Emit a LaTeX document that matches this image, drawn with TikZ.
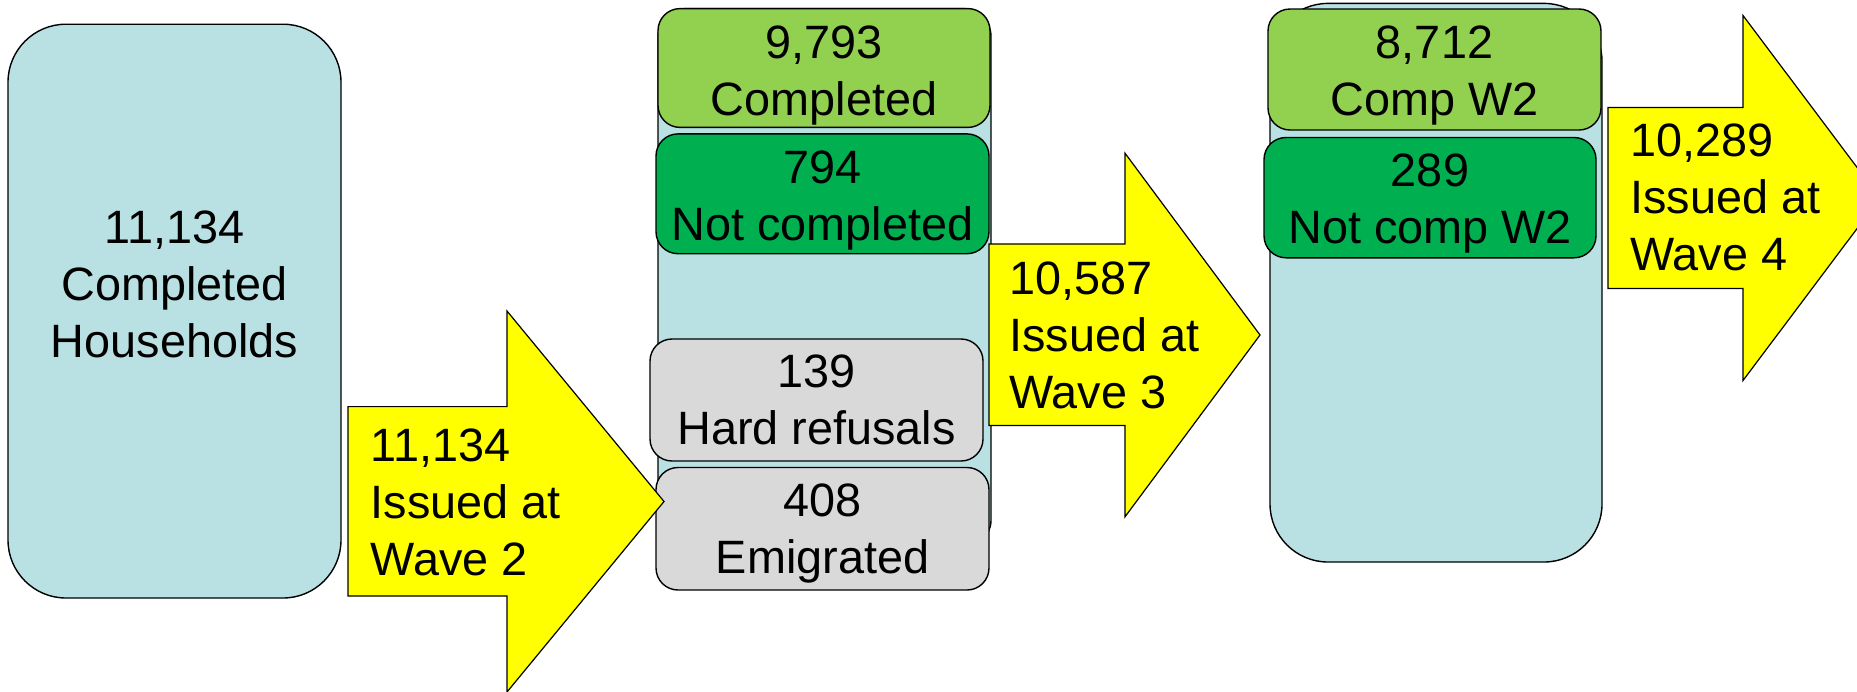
\documentclass[tikz,border=0pt]{standalone}
\usepackage{fontspec}
\setmainfont{Liberation Sans}
\definecolor{lblue}{RGB}{185,224,226}
\definecolor{lgreen}{RGB}{146,208,80}
\definecolor{dgreen}{RGB}{0,176,80}
\definecolor{lgray}{RGB}{217,217,217}
\definecolor{ylw}{RGB}{255,255,0}
\newcommand\ctrlines[1]{\begin{tabular}[t]{@{}c@{}}#1\end{tabular}}
\newcommand\leftlines[1]{\begin{tabular}[t]{@{}l@{}}#1\end{tabular}}
\tikzset{
  boxshape/.style={draw=black, line width=0.7pt, rectangle, inner sep=0pt},
  bigbox/.style={boxshape, rounded corners=29pt},
  smallbox/.style={boxshape, rounded corners=11pt},
  arrowshape/.style={draw=black, line width=0.6pt, fill=ylw},
  label/.style={inner sep=0pt, anchor=base, font=\fontsize{23.4}{28.5}\selectfont},
}
\begin{document}
\begin{tikzpicture}[x=0.5pt, y=-0.5pt]
\useasboundingbox (0,0) rectangle (1857,691);
% left box
\node[bigbox, fill=lblue, minimum width=166.5pt, minimum height=286.9pt] (b1) at (174.5,311.1) {};
% middle container and boxes
\node[boxshape, rounded corners=14pt, fill=lblue, minimum width=166.5pt, minimum height=269.7pt] (mid) at (824.5,278.3) {};
\node[smallbox, fill=lgreen, minimum width=166pt, minimum height=59.4pt] (comp) at (824,68) {};
\node[smallbox, fill=dgreen, minimum width=166.5pt, minimum height=59.9pt] (notcomp) at (822.5,193.8) {};
\node[smallbox, fill=lgray, minimum width=166.5pt, minimum height=61pt] (hard) at (816.5,400) {};
\node[smallbox, fill=lgray, minimum width=166.5pt, minimum height=61.25pt] (emig) at (822.5,528.75) {};
% right container and boxes
\node[bigbox, fill=lblue, minimum width=166pt, minimum height=279.3pt] (right) at (1436,282.7) {};
\node[smallbox, fill=lgreen, minimum width=166.5pt, minimum height=60.5pt] (compw) at (1434.5,69.5) {};
\node[smallbox, fill=dgreen, minimum width=166pt, minimum height=60.15pt] (notcompw) at (1430,197.65) {};
% arrows
\draw[arrowshape] (348,406.6) -- (507,406.6) -- (507,311) -- (664,501.5) -- (507,692) -- (507,596) -- (348,596) -- cycle;
\draw[arrowshape] (989,244) -- (1125,244) -- (1125,153.2) -- (1260,335) -- (1125,516.8) -- (1125,425.5) -- (989,425.5) -- cycle;
\draw[arrowshape] (1608,107.5) -- (1743,107.5) -- (1743,15.5) -- (1880,198) -- (1743,380.5) -- (1743,288.5) -- (1608,288.5) -- cycle;
% texts
\node[label] (t1) at (174.5,243.3) {\ctrlines{11,134\\Completed\\Households}};
\node[label] (t2) at (824,58.3) {\ctrlines{9,793\\Completed}};
\node[label] (t3) at (822.5,183) {\ctrlines{794\\Not completed}};
\node[label] (t4) at (816.5,387.6) {\ctrlines{139\\Hard refusals}};
\node[label] (t5) at (822.5,516) {\ctrlines{408\\Emigrated}};
\node[label] (t6) at (1434.5,58.6) {\ctrlines{8,712\\Comp W2}};
\node[label] (t7) at (1430,186) {\ctrlines{289\\Not comp W2}};
\node[label, anchor=base west] (a1) at (370.5,461.7) {\leftlines{11,134\\Issued at\\Wave 2}};
\node[label, anchor=base west] (a2) at (1009,294.7) {\leftlines{10,587\\Issued at\\Wave 3}};
\node[label, anchor=base west] (a3) at (1630,156.5) {\leftlines{10,289\\Issued at\\Wave 4}};
\end{tikzpicture}
\end{document}
